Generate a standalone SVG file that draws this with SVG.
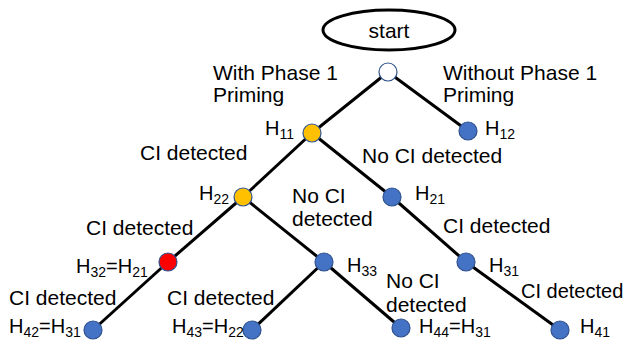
<svg xmlns="http://www.w3.org/2000/svg" width="630" height="345" viewBox="0 0 630 345">
<style>
text{font-family:"Liberation Sans",Arial,sans-serif;font-size:20px;fill:#000}
.l{font-size:21px}
.s{font-size:14px}
.e{stroke:#000;stroke-width:3;fill:none}
.n{stroke:#2F528F;stroke-width:1.2}
.b{fill:#4472C4}.y{fill:#FFC000}.r{fill:#FF0000}.w{fill:#fff}
</style>
<rect width="630" height="345" fill="#fff"/>
<g id="connectors">
<line class="e" x1="388" y1="72" x2="312" y2="133"/>
<line class="e" x1="388" y1="72" x2="468" y2="131"/>
<line class="e" x1="312" y1="133" x2="243" y2="197"/>
<line class="e" x1="312" y1="133" x2="392" y2="197"/>
<line class="e" x1="243" y1="197" x2="168" y2="262"/>
<line class="e" x1="243" y1="197" x2="324" y2="262"/>
<line class="e" x1="168" y1="262" x2="93" y2="330"/>
<line class="e" x1="324" y1="262" x2="252" y2="330"/>
<line class="e" x1="324" y1="262" x2="401" y2="328"/>
<line class="e" x1="392" y1="197" x2="466" y2="262"/>
<line class="e" x1="466" y1="262" x2="560" y2="330"/>
</g>
<g id="start"><ellipse cx="389" cy="30" rx="66" ry="20" fill="#fff" stroke="#000" stroke-width="3"/><text class="l" x="389" y="38" text-anchor="middle">start</text></g>
<g id="root"><circle class="n w" cx="388" cy="72" r="9"/></g>
<g id="H11"><circle class="n y" cx="312" cy="133" r="9"/><text x="265" y="135">H<tspan class="s" dy="4">11</tspan></text></g>
<g id="H12"><circle class="n b" cx="468" cy="131" r="9"/><text x="485" y="135">H<tspan class="s" dy="4">12</tspan></text></g>
<g id="H22"><circle class="n y" cx="243" cy="197" r="9"/><text x="199" y="200">H<tspan class="s" dy="4">22</tspan></text></g>
<g id="H21"><circle class="n b" cx="392" cy="197" r="9"/><text x="415" y="200">H<tspan class="s" dy="4">21</tspan></text></g>
<g id="H32"><circle class="n r" cx="168" cy="262" r="9"/><text x="76" y="273">H<tspan class="s" dy="4">32</tspan><tspan dy="-4">=H</tspan><tspan class="s" dy="4">21</tspan></text></g>
<g id="H33"><circle class="n b" cx="324" cy="262" r="9"/><text x="347" y="272">H<tspan class="s" dy="4">33</tspan></text></g>
<g id="H31"><circle class="n b" cx="466" cy="262" r="9"/><text x="489" y="272">H<tspan class="s" dy="4">31</tspan></text></g>
<g id="H42"><circle class="n b" cx="93" cy="330" r="9"/><text x="9" y="333">H<tspan class="s" dy="4">42</tspan><tspan dy="-4">=H</tspan><tspan class="s" dy="4">31</tspan></text></g>
<g id="H43"><circle class="n b" cx="252" cy="330" r="9"/><text x="172" y="333">H<tspan class="s" dy="4">43</tspan><tspan dy="-4">=H</tspan><tspan class="s" dy="4">22</tspan></text></g>
<g id="H44"><circle class="n b" cx="401" cy="328" r="9"/><text x="419" y="333">H<tspan class="s" dy="4">44</tspan><tspan dy="-4">=H</tspan><tspan class="s" dy="4">31</tspan></text></g>
<g id="H41"><circle class="n b" cx="560" cy="330" r="9"/><text x="580" y="333">H<tspan class="s" dy="4">41</tspan></text></g>
<g id="labels">
<text class="l" x="213" y="80">With Phase 1</text>
<text class="l" x="213" y="102">Priming</text>
<text class="l" x="443" y="80">Without Phase 1</text>
<text class="l" x="443" y="102">Priming</text>
<text class="l" x="140" y="160">CI detected</text>
<text class="l" x="362" y="163">No CI detected</text>
<text class="l" x="292" y="203">No CI</text>
<text class="l" x="292" y="226">detected</text>
<text class="l" x="86" y="235">CI detected</text>
<text class="l" x="443" y="233">CI detected</text>
<text class="l" x="386" y="288">No CI</text>
<text class="l" x="386" y="312">detected</text>
<text x="521" y="298">CI detected</text>
<text class="l" x="9" y="305">CI detected</text>
<text class="l" x="167" y="305">CI detected</text>
</g>
</svg>
